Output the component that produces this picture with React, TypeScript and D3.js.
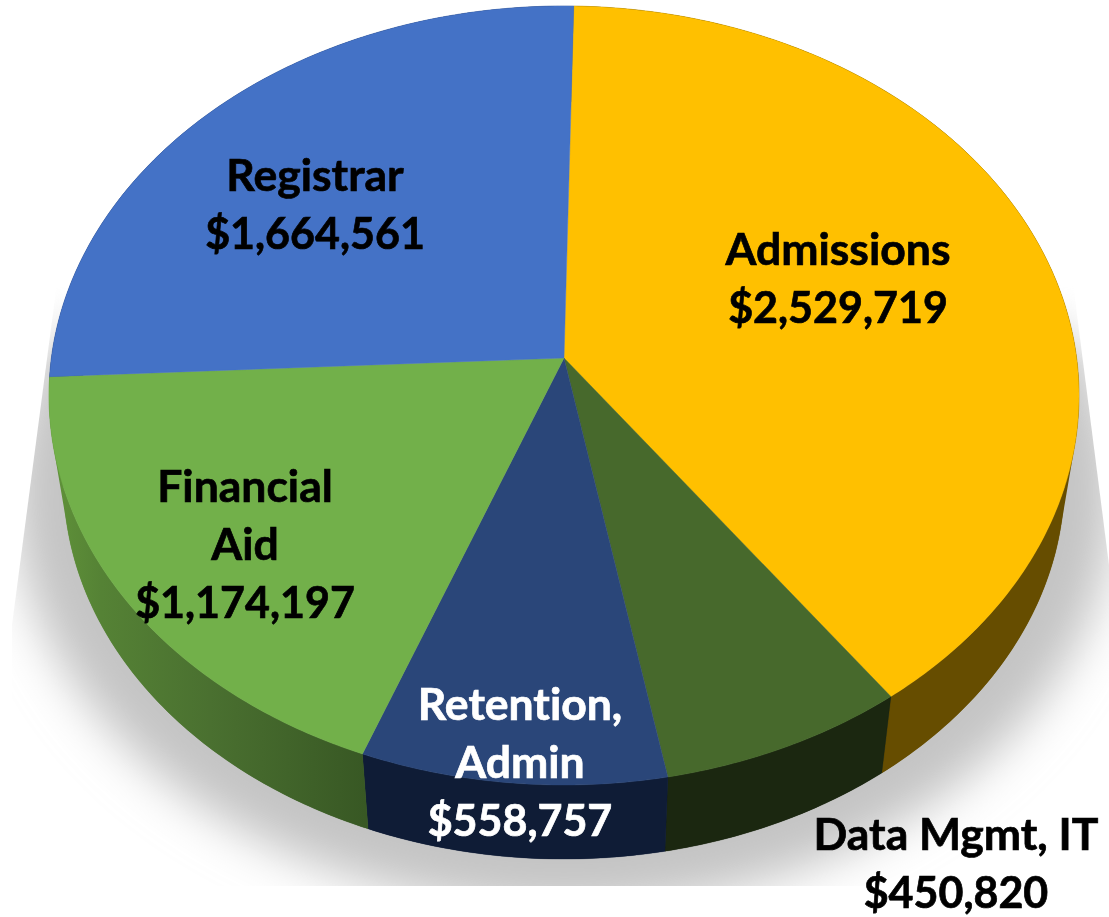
import React from "react";
import * as d3 from "d3";

const categories = ["Admissions", "Data Mgmt, IT", "Retention, Admin", "Financial Aid", "Registrar"];
const amounts = [2529719, 450820, 558757, 1174197, 1664561];
const topColors = ["#FFC000", "#47692C", "#2A4679", "#72B04A", "#4472C6"];
const sideColors = ["#664D00", "#1B2710", "#0F1C36", "url(#finSide)", "#2A4577"];
const labelLines = [
  ["Admissions", "$2,529,719"],
  ["Data Mgmt, IT", "$450,820"],
  ["Retention,", "Admin", "$558,757"],
  ["Financial", "Aid", "$1,174,197"],
  ["Registrar", "$1,664,561"],
];
const labelColors = ["#000", "#000", "#fff", "#000", "#000"];

// layout of the labels, not data
const labelCenterX = [838, 956, 520, 245, 315];
const labelFirstBaseline = [265, 850, 720, 502, 191];

const W = 1109, H = 917;
const rotation = (1.2 * Math.PI) / 180;
const k = 0.0963, A = 512.6, B = 385.9, cx = 564, cy = 358;
const botScale = 0.972, botY = 444;

type P = [number, number];
const project = (theta: number, scale = 1, oy = cy): P => {
  const u = Math.sin(theta), v = -Math.cos(theta), w = 1 - k * v;
  return [cx + (scale * A * u) / w, oy + (scale * B * v) / w];
};
const angles = (a0: number, a1: number, step = 0.01) => {
  const n = Math.max(2, Math.ceil(Math.abs(a1 - a0) / step));
  const t = d3.scaleLinear().domain([0, n]).range([a0, a1]);
  return d3.range(n + 1).map((i) => t(i));
};
const arcPts = (a0: number, a1: number, scale = 1, oy = cy): P[] =>
  angles(a0, a1).map((a) => project(a, scale, oy));
const line = d3.line<P>();
const closed = (pts: P[]) => line(pts) + "Z";

// wall of a slice: union of small quads between the top rim and the bottom rim,
// all wound the same way, so the straight silhouette of the cylinder comes out right
const wallPath = (a0: number, a1: number) => {
  const as = angles(a0, a1, 0.015);
  return d3.pairs(as).map(([p, q]) => {
    const quad: P[] = [project(p), project(q), project(q, botScale, botY), project(p, botScale, botY)];
    return closed(d3.polygonArea(quad) < 0 ? quad.reverse() : quad);
  }).join("");
};
// the same wall as one polygon, laid over the quads to hide the hairlines between them
const wallBody = (a0: number, a1: number) =>
  closed([...arcPts(a0, a1), ...arcPts(a1, a0, botScale, botY)]);

const pieGen = d3.pie<number>().sort(null).startAngle(rotation).endAngle(rotation + 2 * Math.PI);
const slices = pieGen(amounts);

export default function App() {
  return (
    <svg width={W} height={H} viewBox={`0 0 ${W} ${H}`}
      style={{ position: "absolute", left: 0, top: 0, background: "#fff", display: "block" }}>
      <defs>
        <linearGradient id="finSide" gradientUnits="userSpaceOnUse" x1="55" x2="365" y1="0" y2="0">
          <stop offset="0" stopColor="#5F9139" />
          <stop offset="0.15" stopColor="#558235" />
          <stop offset="0.5" stopColor="#4A7030" />
          <stop offset="1" stopColor="#385824" />
        </linearGradient>
        <linearGradient id="shadowFade" gradientUnits="userSpaceOnUse" x1="0" x2="0" y1="285" y2="365">
          <stop offset="0" stopColor="#000" />
          <stop offset="1" stopColor="#fff" />
        </linearGradient>
        <mask id="shadowMask" maskUnits="userSpaceOnUse" x="0" y="0" width={W} height={H}>
          <rect width={W} height={H} fill="url(#shadowFade)" />
        </mask>
        <filter id="soft" x="-20%" y="-20%" width="140%" height="140%">
          <feGaussianBlur stdDeviation="24" />
        </filter>
        <filter id="txt" x="-5%" y="-5%" width="110%" height="110%">
          <feGaussianBlur stdDeviation="0.35" />
        </filter>
        <clipPath id="shadowClip">
          <path d={closed([[60, 260], [12, 625], [12, 886], [W, 886], [W, 565], [1070, 260]])} />
        </clipPath>
      </defs>

      <g clipPath="url(#shadowClip)" mask="url(#shadowMask)">
        <path d={closed(arcPts(0, 2 * Math.PI, 1.07, 452))} fill="#c4c4c4" filter="url(#soft)" />
      </g>

      {slices.map((s, i) => (
        <g key={`side-${categories[i]}`} fill={sideColors[i]}>
          <path d={wallPath(s.startAngle, s.endAngle)} fillRule="nonzero" />
          <path d={wallBody(s.startAngle, s.endAngle)} stroke={sideColors[i]} strokeWidth={0.3} />
        </g>
      ))}
      {slices.map((s, i) => (
        <path key={`top-${categories[i]}`}
          d={closed([[cx, cy] as P, ...arcPts(s.startAngle, s.endAngle)])}
          fill={topColors[i]} stroke={topColors[i]} strokeWidth={0.4} />
      ))}
      <g filter="url(#txt)" fontFamily="Lato, sans-serif" fontWeight={700} textAnchor="middle"
        style={{ fontVariantLigatures: "none", fontKerning: "normal" }}>
        {labelLines.map((ls, i) => (
          <text key={categories[i]} x={labelCenterX[i]} fill={labelColors[i]}
            stroke={labelColors[i]} strokeWidth={0.7}>
            {ls.map((t, j) => (
              <tspan key={t} x={labelCenterX[i]} y={labelFirstBaseline[i] + j * 58}
                fontSize={t.startsWith("$") ? 43 : 44.5}>{t}</tspan>
            ))}
          </text>
        ))}
      </g>
    </svg>
  );
}
